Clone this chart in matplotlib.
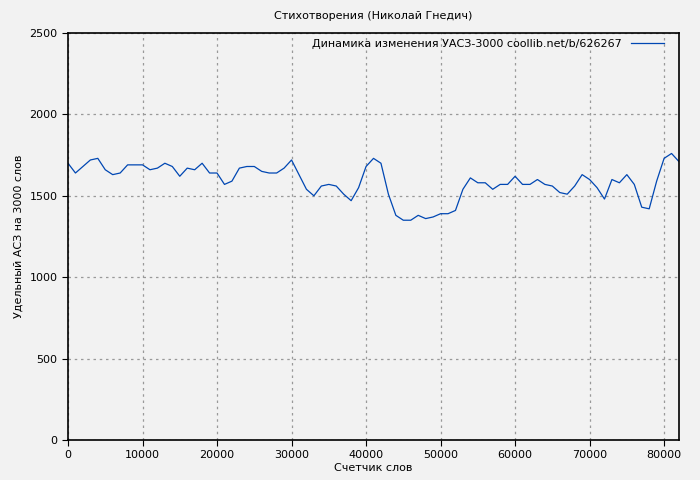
import numpy as np
import matplotlib.pyplot as plt

# Data (one point per 1000 words)
words = np.arange(0, 83000, 1000)
uasz = [1700, 1640, 1680, 1720, 1730, 1660, 1630, 1640, 1690, 1690,
        1690, 1660, 1670, 1700, 1680, 1620, 1670, 1660, 1700, 1640,
        1640, 1570, 1590, 1670, 1680, 1680, 1650, 1640, 1640, 1670,
        1720, 1630, 1540, 1500, 1560, 1570, 1560, 1510, 1470, 1550,
        1680, 1730, 1700, 1510, 1380, 1350, 1350, 1380, 1360, 1370,
        1390, 1390, 1410, 1540, 1610, 1580, 1580, 1540, 1570, 1570,
        1620, 1570, 1570, 1600, 1570, 1560, 1520, 1510, 1560, 1630,
        1600, 1550, 1480, 1600, 1580, 1630, 1570, 1430, 1420, 1590,
        1730, 1760, 1710]

fig = plt.figure(figsize=(7, 4.8), dpi=100)
fig.patch.set_facecolor('#f2f2f2')
ax = fig.add_axes([68/700, 40/480, 611/700, 407/480])
ax.set_facecolor('#f2f2f2')
ax.plot(words, uasz, color='#0047b3', lw=0.9,
        label='Динамика изменения УАСЗ-3000 coollib.net/b/626267')
ax.set_xlim(0, 82000)
ax.set_ylim(0, 2500)
ax.set_xticks(range(0, 82000, 10000))
ax.set_yticks(range(0, 2501, 500))
ax.grid(True, color='#999999', ls=(0, (2, 3)), lw=0.9)
ax.tick_params(labelsize=8, direction='out', length=4)
for s in ax.spines.values():
    s.set_linewidth(1.2)
ax.set_title('Стихотворения (Николай Гнедич)', fontsize=8, pad=10)
ax.set_xlabel('Счетчик слов', fontsize=8, labelpad=2)
ax.set_ylabel('Удельный АСЗ на 3000 слов', fontsize=8)
leg = ax.legend(loc='upper right', fontsize=8, frameon=False, markerfirst=False,
                handlelength=3, borderaxespad=0.1, bbox_to_anchor=(0.985, 1.0))
fig.savefig('out.png', dpi=100, facecolor=fig.get_facecolor())
